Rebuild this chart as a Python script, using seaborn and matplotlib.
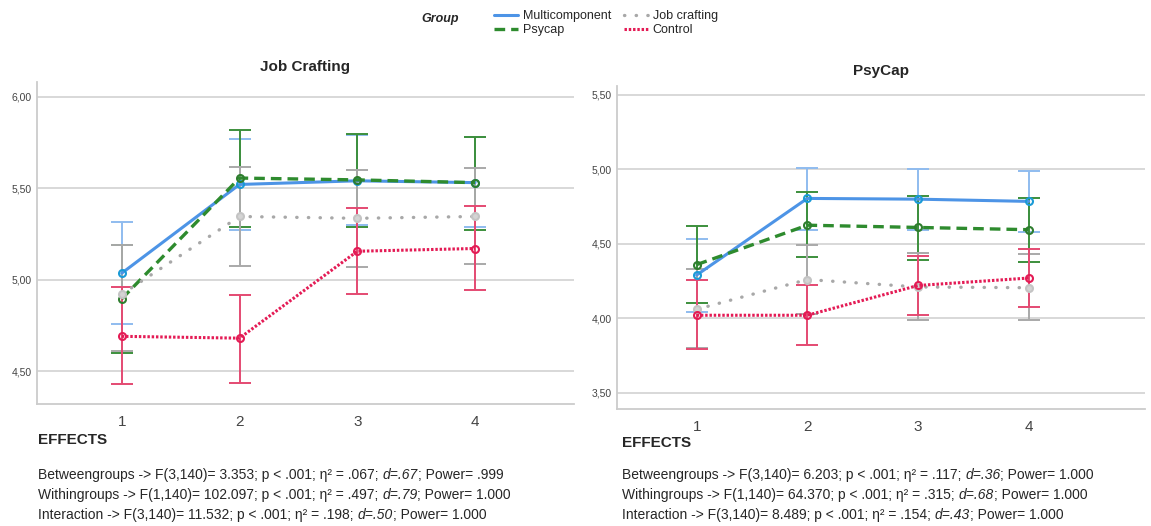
import numpy as np
import pandas as pd
import matplotlib
matplotlib.use('Agg')
import matplotlib.pyplot as plt
import seaborn as sns
from matplotlib.lines import Line2D
from matplotlib.offsetbox import TextArea, HPacker, AnchoredOffsetbox

## data
times = [1, 2, 3, 4]
groups = ['Multicomponent', 'Psycap', 'Job crafting', 'Control']

# Job Crafting
jc_mean = {'Multicomponent': [5.035, 5.52, 5.54, 5.53],
           'Psycap': [4.895, 5.555, 5.545, 5.53],
           'Job crafting': [4.92, 5.345, 5.335, 5.345],
           'Control': [4.69, 4.68, 5.155, 5.17]}
jc_low = {'Multicomponent': [4.76, 5.27, 5.30, 5.29],
          'Psycap': [4.60, 5.29, 5.29, 5.27],
          'Job crafting': [4.61, 5.075, 5.07, 5.085],
          'Control': [4.43, 4.435, 4.92, 4.945]}
jc_high = {'Multicomponent': [5.315, 5.77, 5.79, 5.78],
           'Psycap': [5.19, 5.815, 5.795, 5.78],
           'Job crafting': [5.19, 5.615, 5.60, 5.61],
           'Control': [4.96, 4.915, 5.39, 5.405]}

# PsyCap
pc_mean = {'Multicomponent': [4.29, 4.805, 4.80, 4.785],
           'Psycap': [4.36, 4.625, 4.61, 4.595],
           'Job crafting': [4.06, 4.26, 4.21, 4.205],
           'Control': [4.02, 4.02, 4.22, 4.27]}
pc_low = {'Multicomponent': [4.04, 4.59, 4.59, 4.58],
          'Psycap': [4.10, 4.41, 4.39, 4.38],
          'Job crafting': [3.80, 4.03, 3.99, 3.99],
          'Control': [3.79, 3.82, 4.02, 4.075]}
pc_high = {'Multicomponent': [4.535, 5.01, 5.00, 4.99],
           'Psycap': [4.62, 4.85, 4.82, 4.81],
           'Job crafting': [4.33, 4.49, 4.44, 4.43],
           'Control': [4.255, 4.225, 4.42, 4.465]}

jc_ticks = [4.5, 5.0, 5.5, 6.0]
pc_ticks = [3.5, 4.0, 4.5, 5.0, 5.5]

jc_effects = [("Betweengroups -> F(3,140)= 3.353; p < .001; \u03b7\u00b2 = .067; ", "d=.67", "; Power= .999"),
              ("Withingroups -> F(1,140)= 102.097; p < .001; \u03b7\u00b2 = .497; ", "d=.79", "; Power= 1.000"),
              ("Interaction -> F(3,140)= 11.532; p < .001; \u03b7\u00b2 = .198; ", "d=.50", "; Power= 1.000")]
pc_effects = [("Betweengroups -> F(3,140)= 6.203; p < .001; \u03b7\u00b2 = .117; ", "d=.36", "; Power= 1.000"),
              ("Withingroups -> F(1,140)= 64.370; p < .001; \u03b7\u00b2 = .315; ", "d=.68", "; Power= 1.000"),
              ("Interaction -> F(3,140)= 8.489; p < .001; \u03b7\u00b2 = .154; ", "d=.43", "; Power= 1.000")]

## styles
line_col = {'Multicomponent': '#4d94e6', 'Psycap': '#2e8b2e',
            'Job crafting': '#a8a8a8', 'Control': '#e41b55'}
err_col = {'Multicomponent': '#8fbcef', 'Psycap': '#3c8f3c',
           'Job crafting': '#a9a9a9', 'Control': '#e44a72'}
mark_col = {'Multicomponent': '#1a9ad6', 'Psycap': '#2e7d2e',
            'Job crafting': '#c4c4c4', 'Control': '#e41b55'}
dash = {'Multicomponent': '', 'Psycap': (3.2, 1.8),
        'Job crafting': (0.1, 3.4), 'Control': (0.8, 0.6)}
lw = {'Multicomponent': 2.2, 'Psycap': 2.4, 'Job crafting': 2.4, 'Control': 2.2}

sns.set_style('white')
plt.rcParams['font.family'] = ['Liberation Sans', 'DejaVu Sans']


def long_df(mean, low, high):
    rows = []
    for g in groups:
        for t, m, lo, hi in zip(times, mean[g], low[g], high[g]):
            rows.append({'group': g, 'time': t, 'mean': m, 'low': lo, 'high': hi})
    return pd.DataFrame(rows)


def panel(ax, df, title, ticks, ylim, xlim):
    for g in groups:
        d = df[df['group'] == g]
        ax.errorbar(d['time'], d['mean'],
                    yerr=[d['mean'] - d['low'], d['high'] - d['mean']],
                    fmt='none', ecolor=err_col[g], elinewidth=1.4,
                    capsize=8, capthick=1.4, zorder=2)
    n0 = len(ax.get_lines())
    sns.lineplot(data=df, x='time', y='mean', hue='group', style='group',
                 palette=line_col, dashes=dash, markers={g: 'o' for g in groups},
                 hue_order=groups, style_order=groups, legend=False, ax=ax,
                 markersize=5, markeredgewidth=1.5, zorder=3)
    for line, g in zip(ax.get_lines()[n0:], groups):
        line.set_linewidth(lw[g])
        line.set_dash_capstyle('round' if g == 'Job crafting' else 'butt')
        line.set_markeredgecolor(mark_col[g])
        line.set_markerfacecolor('#d4d4d4' if g == 'Job crafting' else 'none')
    ax.set_xlim(*xlim)
    ax.set_ylim(*ylim)
    ax.set_xticks(times)
    ax.set_xticklabels([str(t) for t in times], fontsize=11, color='#444444')
    ax.set_yticks(ticks)
    ax.set_yticklabels([('%.2f' % v).replace('.', ',') for v in ticks], fontsize=7.5, color='#444444')
    ax.yaxis.grid(True, color='#d6d6d6', lw=1.3)
    ax.set_axisbelow(True)
    ax.set_xlabel('')
    ax.set_ylabel('')
    ax.tick_params(axis='y', length=0, pad=4)
    ax.tick_params(axis='x', length=0, pad=8)
    sns.despine(ax=ax)
    for s in ['left', 'bottom']:
        ax.spines[s].set_color('#cccccc')
        ax.spines[s].set_linewidth(1.3)
    ax.set_title(title, fontsize=11, fontweight='bold', pad=8)


fig = plt.figure(figsize=(11.51, 5.26), dpi=100)
ax1 = fig.add_axes([0.0321, 0.2319, 0.4666, 0.6122])
ax2 = fig.add_axes([0.536, 0.2224, 0.4587, 0.614])

panel(ax1, long_df(jc_mean, jc_low, jc_high), 'Job Crafting', jc_ticks, (4.32, 6.08), (0.28, 4.84))
panel(ax2, long_df(pc_mean, pc_low, pc_high), 'PsyCap', pc_ticks, (3.39, 5.56), (0.28, 5.05))

## legend
handles = [Line2D([], [], color=line_col[g], lw=lw[g], dashes=dash[g] if dash[g] else (None, None),
                  dash_capstyle='round' if g == 'Job crafting' else 'butt') for g in groups]
fig.legend(handles, groups, ncol=2, loc='upper left', bbox_to_anchor=(488 / 1151, 1 - 4 / 526),
           frameon=False, fontsize=9, handlelength=1.9, handletextpad=0.4,
           columnspacing=1.0, labelspacing=0.15, borderpad=0)
fig.text(440 / 1151, 1 - 19 / 526, 'Group', fontsize=9, fontweight='bold', fontstyle='italic',
         ha='center', va='center')

## effects text
for x0, y0, rows in [(38, 440, jc_effects), (622, 443, pc_effects)]:
    fig.text(x0 / 1151, 1 - y0 / 526, 'EFFECTS', fontsize=11, fontweight='bold', va='center')
    for i, (a, b, c) in enumerate(rows):
        box = HPacker(children=[TextArea(a, textprops=dict(fontsize=10)),
                                TextArea(b, textprops=dict(fontsize=10, fontstyle='italic')),
                                TextArea(c, textprops=dict(fontsize=10))],
                      align='baseline', pad=0, sep=0)
        ab = AnchoredOffsetbox(loc='center left', child=box, pad=0, borderpad=0, frameon=False,
                               bbox_to_anchor=(x0 / 1151, 1 - (475 + 20 * i) / 526),
                               bbox_transform=fig.transFigure)
        fig.add_artist(ab)

fig.savefig('out.png', dpi=100)
